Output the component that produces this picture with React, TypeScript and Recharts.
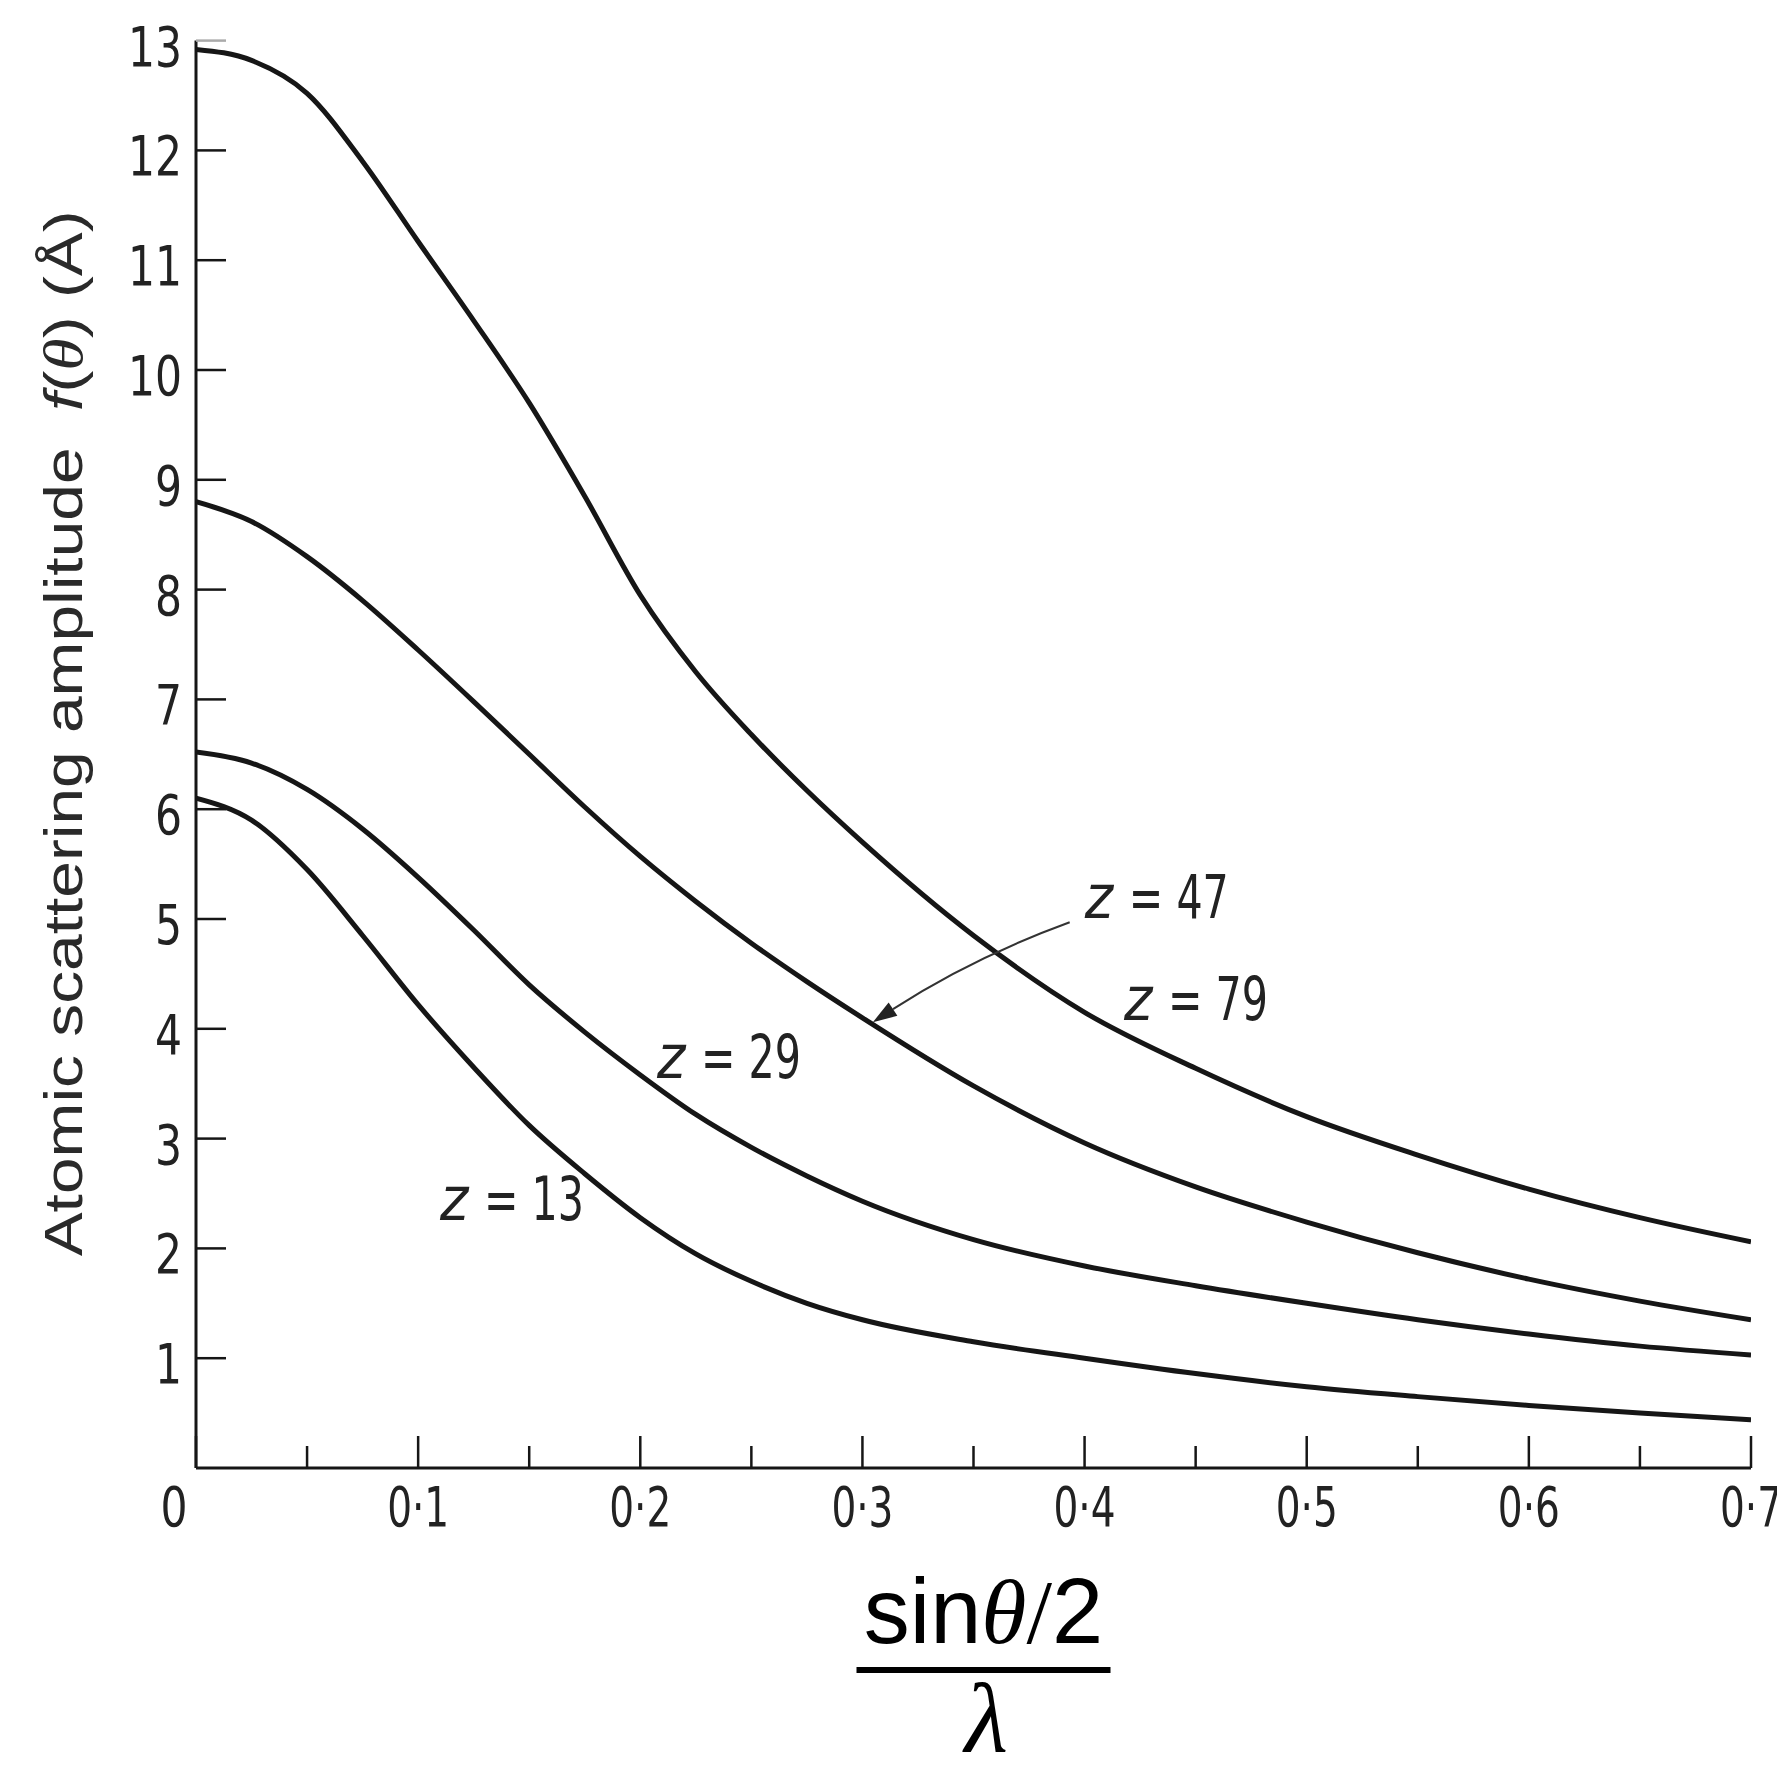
import React from 'react';
import { LineChart, Line, XAxis, YAxis, ReferenceDot, ReferenceLine } from 'recharts';

// sin(theta/2)/lambda sample points
const S_VALUES = [0, 0.025, 0.05, 0.075, 0.1, 0.125, 0.15, 0.175, 0.2, 0.225, 0.25, 0.275, 0.3, 0.35, 0.4, 0.45, 0.5, 0.55, 0.6, 0.65, 0.7];

// f(theta), one list per atomic number
const F_Z79 = [12.92, 12.82, 12.52, 11.9, 11.17, 10.45, 9.7, 8.85, 7.95, 7.25, 6.68, 6.17, 5.7, 4.85, 4.15, 3.64, 3.2, 2.85, 2.54, 2.28, 2.06];
const F_Z47 = [8.8, 8.62, 8.3, 7.9, 7.45, 6.98, 6.5, 6.02, 5.57, 5.16, 4.78, 4.43, 4.1, 3.48, 2.96, 2.56, 2.24, 1.96, 1.72, 1.52, 1.35];
const F_Z29 = [6.52, 6.42, 6.18, 5.82, 5.38, 4.9, 4.4, 3.97, 3.58, 3.22, 2.92, 2.66, 2.43, 2.08, 1.84, 1.66, 1.5, 1.35, 1.22, 1.11, 1.03];
const F_Z13 = [6.1, 5.9, 5.45, 4.85, 4.22, 3.65, 3.12, 2.68, 2.28, 1.95, 1.7, 1.5, 1.35, 1.15, 1.0, 0.86, 0.74, 0.65, 0.57, 0.5, 0.44];

const X_TICKS = [0, 0.05, 0.1, 0.15, 0.2, 0.25, 0.3, 0.35, 0.4, 0.45, 0.5, 0.55, 0.6, 0.65, 0.7];
const X_TICK_LABELS = ['0', '', '0·1', '', '0·2', '', '0·3', '', '0·4', '', '0·5', '', '0·6', '', '0·7'];
const Y_TICKS = [1, 2, 3, 4, 5, 6, 7, 8, 9, 10, 11, 12, 13];

// curve annotations (z value, position in data units)
const LABEL_Z = ['13', '29', '47', '79'];
const LABEL_S = [0.1098, 0.2075, 0.4001, 0.4177];
const LABEL_F = [2.26, 3.55, 5.01, 4.08];

// leader arrow from the z = 47 label to its curve
const ARROW_FROM = { x: 0.3933, y: 4.97 };
const ARROW_TO = { x: 0.3047, y: 4.06 };

const data = S_VALUES.map((s, i) => ({
  s,
  z79: F_Z79[i],
  z47: F_Z47[i],
  z29: F_Z29[i],
  z13: F_Z13[i],
}));

const INK = '#161616';
const NUM_FONT = "'Liberation Sans Narrow', 'DejaVu Sans Condensed', 'Liberation Sans', sans-serif";

const XTick = (props: any) => {
  const { x, y, payload } = props;
  const idx = Math.round(payload.value / 0.05);
  const label = X_TICK_LABELS[idx];
  const major = label !== '';
  return (
    <g>
      <line x1={x} x2={x} y1={y} y2={y - (major ? 32 : 22)} stroke={INK} strokeWidth={2.5} />
      {major && (
        <text
          x={x + (idx === 0 ? -22 : 0)}
          y={y + 58}
          textAnchor="middle"
          fontFamily={NUM_FONT}
          fontSize={56}
          fill="#222"
          textLength={label.length > 1 ? 62 : 27}
          lengthAdjust="spacingAndGlyphs"
        >
          {label}
        </text>
      )}
    </g>
  );
};

const YTick = (props: any) => {
  const { x, y, payload } = props;
  const top = payload.value === 13;
  const txt = String(payload.value);
  return (
    <g>
      <line x1={x} x2={x + 30} y1={y} y2={y} stroke={top ? '#aaa' : INK} strokeWidth={2.5} />
      <text
        x={x - 14}
        y={y + 25}
        textAnchor="end"
        fontFamily={NUM_FONT}
        fontSize={56}
        fill="#222"
        textLength={txt.length * 27}
        lengthAdjust="spacingAndGlyphs"
      >
        {txt}
      </text>
    </g>
  );
};

const YLabel = (props: any) => {
  const { viewBox } = props;
  const bx = viewBox.x - 54;
  const cy = viewBox.y + viewBox.height / 2 - 21;
  return (
    <text
      x={bx}
      y={cy}
      transform={`rotate(-90, ${bx}, ${cy})`}
      textAnchor="middle"
      fontFamily="'Liberation Sans', sans-serif"
      fontSize={54}
      fill="#2a2a2a"
      textLength={1046}
      lengthAdjust="spacingAndGlyphs"
    >
      Atomic scattering amplitude{'\u00a0\u00a0'}
      <tspan fontStyle="italic">f</tspan>(<tspan fontStyle="italic" fontFamily="'Liberation Serif', serif">θ</tspan>) (Å)
    </text>
  );
};

const XLabel = (props: any) => {
  const { viewBox } = props;
  const cx = viewBox.x + viewBox.width / 2 + 10;
  const ay = viewBox.y;
  return (
    <g fill="#000">
      <text x={cx} y={ay + 175} textAnchor="middle" fontFamily="'Liberation Sans', sans-serif" fontSize={92}>
        sin
        <tspan fontFamily="'Liberation Serif', serif" fontStyle="italic">θ</tspan>
        <tspan fontFamily="'Liberation Serif', serif">/</tspan>
        2
      </text>
      <line x1={cx - 127} x2={cx + 127} y1={ay + 202} y2={ay + 202} stroke="#000" strokeWidth={6} />
      <text x={cx + 3} y={ay + 284} textAnchor="middle" fontFamily="'Liberation Serif', serif" fontStyle="italic" fontSize={100}>
        λ
      </text>
    </g>
  );
};

const ZLabel = (props: any) => {
  const { cx, cy, z } = props;
  return (
    <g fill="#222" fontFamily={NUM_FONT} fontSize={60}>
      <text x={cx} y={cy} fontStyle="italic">
        z
      </text>
      <text x={cx + 44} y={cy} textLength={100} lengthAdjust="spacingAndGlyphs">
        {'= ' + z}
      </text>
    </g>
  );
};

const LeaderArrow = (props: any) => {
  const { x1, y1, x2, y2 } = props;
  if ([x1, y1, x2, y2].some((v) => typeof v !== 'number')) return null;
  // slight upward bow of the leader
  const qx = (x1 + x2) / 2;
  const qy = (y1 + y2) / 2 - 14;
  const ex = x2 - qx;
  const ey = y2 - qy;
  const el = Math.hypot(ex, ey);
  const ux = ex / el;
  const uy = ey / el;
  const hl = 24;
  const hw = 8;
  const bx = x2 - ux * hl;
  const by = y2 - uy * hl;
  return (
    <g>
      <path d={`M${x1},${y1} Q${qx},${qy} ${bx},${by}`} fill="none" stroke="#333" strokeWidth={2} />
      <polygon
        points={`${x2},${y2} ${bx - uy * hw},${by + ux * hw} ${bx + uy * hw},${by - ux * hw}`}
        fill="#222"
      />
    </g>
  );
};

export default function App() {
  const series = ['z79', 'z47', 'z29', 'z13'];
  return (
    <div style={{ position: 'absolute', left: 0, top: 0, width: 1777, height: 1770, background: '#fff' }}>
      <LineChart width={1777} height={1770} data={data} margin={{ top: 40.6, right: 26, bottom: 242, left: 136 }}>
        <XAxis
          type="number"
          dataKey="s"
          domain={[0, 0.7]}
          ticks={X_TICKS}
          interval={0}
          height={60}
          tickSize={0}
          tickMargin={0}
          tickLine={false}
          axisLine={{ stroke: INK, strokeWidth: 3 }}
          tick={<XTick />}
          label={<XLabel />}
          allowDataOverflow
        />
        <YAxis
          type="number"
          domain={[0, 13]}
          ticks={Y_TICKS}
          interval={0}
          width={60}
          tickSize={0}
          tickMargin={0}
          tickLine={false}
          axisLine={{ stroke: INK, strokeWidth: 3 }}
          tick={<YTick />}
          label={<YLabel />}
          allowDataOverflow
        />
        {series.map((key) => (
          <Line
            key={key}
            dataKey={key}
            type="monotone"
            stroke={INK}
            strokeWidth={5}
            dot={false}
            activeDot={false}
            isAnimationActive={false}
          />
        ))}
        {LABEL_Z.map((z, i) => (
          <ReferenceDot
            key={z}
            x={LABEL_S[i]}
            y={LABEL_F[i]}
            r={0}
            ifOverflow="visible"
            shape={(p: any) => <ZLabel {...p} z={z} />}
          />
        ))}
        <ReferenceLine
          segment={[ARROW_FROM, ARROW_TO]}
          ifOverflow="visible"
          shape={(p: any) => <LeaderArrow {...p} />}
        />
      </LineChart>
    </div>
  );
}
